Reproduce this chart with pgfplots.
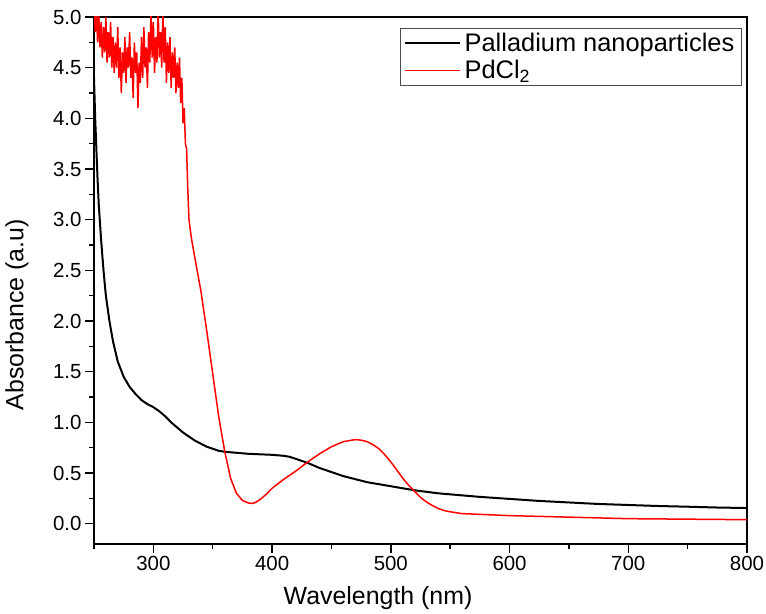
\documentclass[border=0pt]{standalone}
\usepackage{fontspec}
\setmainfont{Liberation Sans}
\usepackage{pgfplots}
\pgfplotsset{compat=1.18}

\begin{document}
\begin{tikzpicture}
\begin{axis}[
    scale only axis,
    width=653bp, height=527bp,
    xmin=250, xmax=800, ymin=-0.2, ymax=5.0,
    xtick={300,400,500,600,700,800},
    minor xtick={250,350,450,550,650,750},
    ytick={0,0.5,1,1.5,2,2.5,3,3.5,4,4.5,5},
    minor ytick={0.25,0.75,1.25,1.75,2.25,2.75,3.25,3.75,4.25,4.75},
    yticklabel style={/pgf/number format/.cd, fixed, fixed zerofill, precision=1},
    /pgf/number format/assume math mode=true,
    tick label style={font=\fontsize{20.5}{24}\selectfont, black},
    tick align=outside, tick pos=left,
    major tick length=9bp, minor tick length=5bp,
    every tick/.style={black, line width=1.5bp},
    axis line style={black, line width=1.8bp},
    xlabel={Wavelength (nm)},
    ylabel={Absorbance (a.u)},
    label style={font=\fontsize{25}{30}\selectfont},
    xlabel style={at={(axis description cs:0.435,-0.102)}, anchor=center},
    ylabel style={at={(axis description cs:-0.118,0.435)}, anchor=center},
    legend style={at={(0.992,0.979)}, anchor=north east,
        draw=black!70, line width=0.8bp,
        font=\fontsize{25.5}{29}\selectfont,
        inner xsep=3bp, inner ysep=3bp, row sep=3bp,
        cells={anchor=west},
        nodes={inner xsep=4bp}},
    legend image code/.code={\draw[#1] (0bp,0bp) -- (55bp,0bp);},
]
% Palladium nanoparticles
\addplot[black, line width=2bp] coordinates {
(250,4.40) (251,4.00) (252,3.70) (253,3.40) (254,3.15) (256,2.80) (258,2.50)
(260,2.25) (263,2.00) (266,1.80) (270,1.60) (275,1.45) (280,1.35) (285,1.28)
(290,1.22) (295,1.18) (300,1.15) (305,1.11) (310,1.06) (315,1.00) (320,0.95)
(325,0.90) (330,0.86) (335,0.82) (340,0.79) (345,0.76) (350,0.74) (355,0.72)
(360,0.71) (370,0.70) (380,0.69) (390,0.685) (400,0.68) (410,0.67) (415,0.66)
(420,0.64) (425,0.62) (430,0.60) (435,0.575) (440,0.55) (445,0.53) (450,0.51)
(460,0.47) (470,0.44) (480,0.41) (490,0.39) (500,0.37) (510,0.35) (520,0.33)
(530,0.315) (540,0.30) (550,0.29) (575,0.265) (600,0.245) (625,0.225)
(650,0.21) (675,0.195) (700,0.185) (725,0.175) (750,0.168) (775,0.16) (800,0.155)
};
\addlegendentry{Palladium nanoparticles}
% PdCl2
\addplot[red, line width=1.5bp] coordinates {
(250,5.20) (251,4.85) (252,5.10) (253,4.75) (254,5.05) (255,4.70) (256,4.95)
(257,4.60) (258,4.90) (259,4.65) (260,5.00) (261,4.55) (262,4.85) (263,4.60)
(264,4.95) (265,4.50) (266,4.80) (267,4.45) (268,4.75) (269,4.50) (270,4.90)
(271,4.40) (272,4.70) (273,4.25) (274,4.65) (275,4.45) (276,4.80) (277,4.35)
(278,4.70) (279,4.50) (280,4.85) (281,4.40) (282,4.60) (283,4.20) (284,4.75)
(285,4.45) (286,4.65) (287,4.10) (288,4.55) (289,4.35) (290,4.80) (291,4.40)
(292,4.90) (293,4.50) (294,4.70) (295,4.30) (296,4.85) (297,4.55) (298,5.05)
(299,4.60) (300,4.95) (301,4.45) (302,4.80) (303,4.55) (304,5.10) (305,4.60)
(306,4.85) (307,4.50) (308,5.05) (309,4.55) (310,4.90) (311,4.35) (312,4.75)
(313,4.45) (314,4.80) (315,4.30) (316,4.65) (317,4.40) (318,4.70) (319,4.25)
(320,4.55) (321,4.30) (322,4.60) (323,4.15) (324,4.40) (325,3.95) (326,4.10)
(327,3.75) (328,3.70) (329,3.30) (330,3.00) (332,2.82) (335,2.62) (340,2.30)
(345,1.90) (350,1.48) (355,1.06) (360,0.72) (365,0.45) (370,0.30) (375,0.23)
(380,0.205) (383,0.20) (386,0.21) (390,0.24) (395,0.29) (400,0.35) (410,0.44)
(420,0.52) (430,0.61) (440,0.69) (450,0.76) (460,0.81) (470,0.83) (475,0.825)
(480,0.81) (485,0.78) (490,0.74) (495,0.68) (500,0.61) (505,0.53) (510,0.45)
(515,0.38) (520,0.32) (525,0.26) (530,0.215) (535,0.18) (540,0.15) (545,0.13)
(550,0.118) (560,0.10) (580,0.09) (600,0.08) (650,0.065) (700,0.05) (750,0.045)
(800,0.04)
};
\addlegendentry{PdCl\textsubscript{2}}
\end{axis}
\pgfresetboundingbox
\path ([shift={(-94bp,-69bp)}]current axis.south west)
  rectangle ([shift={(19bp,17bp)}]current axis.north east);
\end{tikzpicture}
\end{document}
